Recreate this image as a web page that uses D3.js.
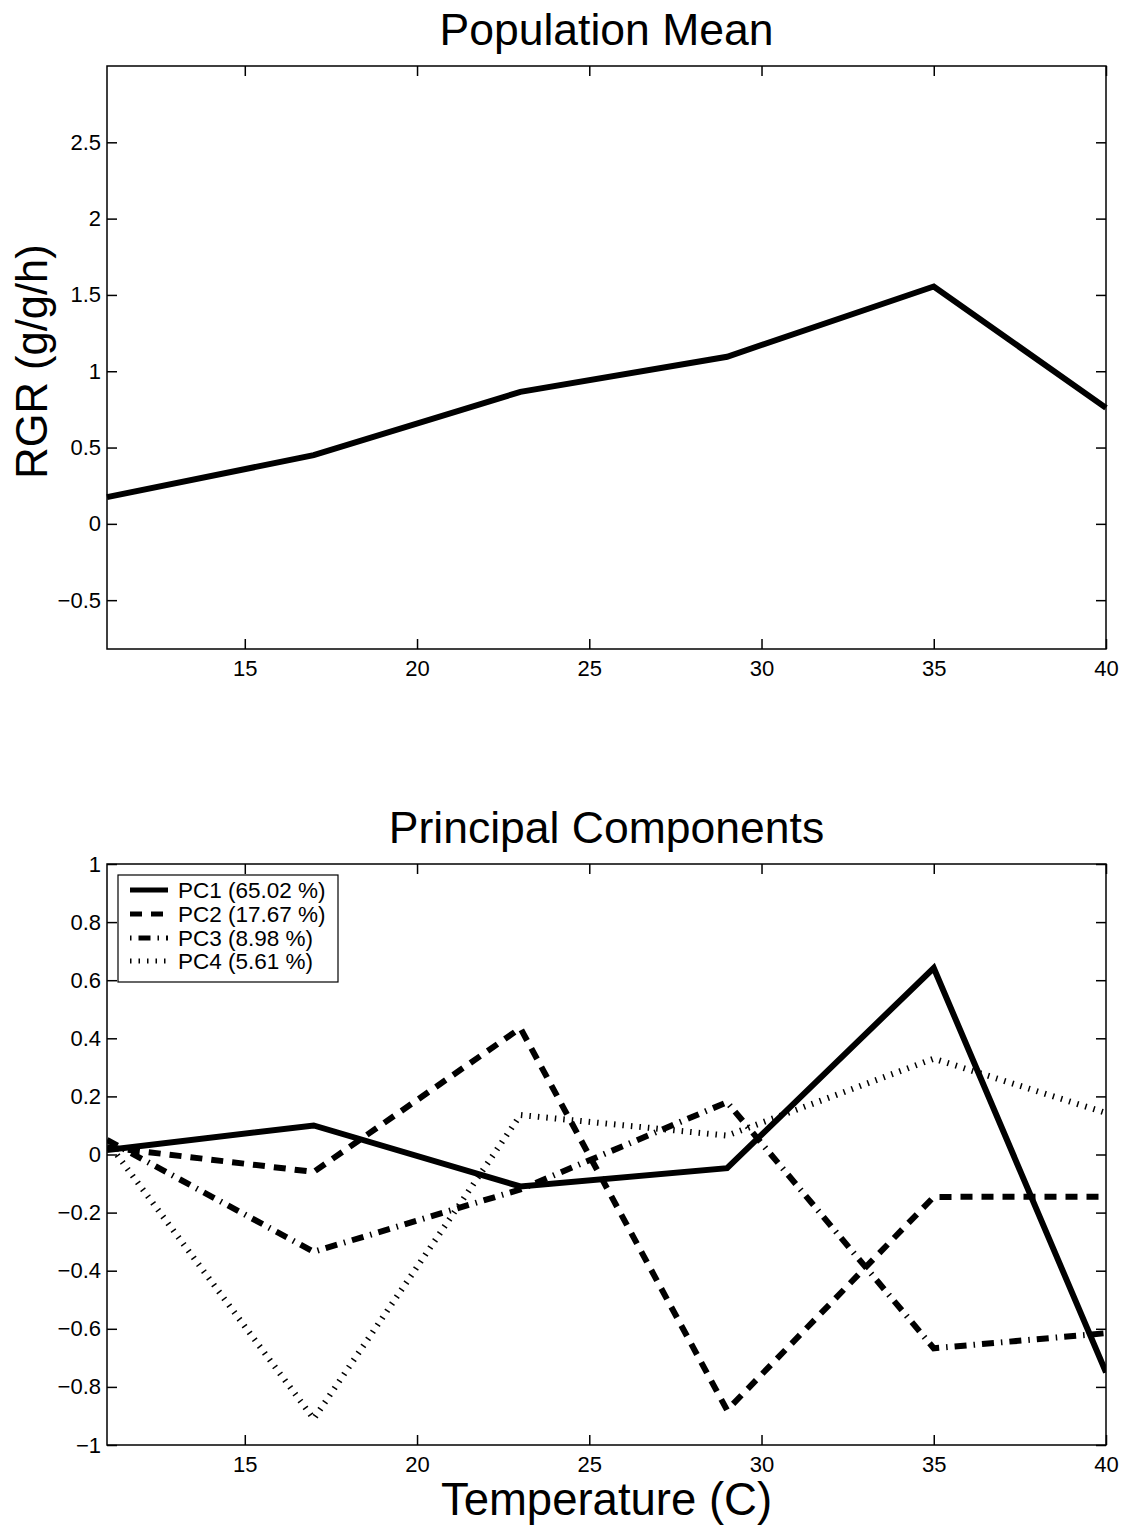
<!DOCTYPE html>
<html>
<head>
<meta charset="utf-8">
<script src="https://cdn.jsdelivr.net/npm/d3@7"></script>
<style>
  body { margin: 0; background: #fff; }
  svg { display: block; font-family: "Liberation Sans", Arial, Helvetica, sans-serif; }
</style>
</head>
<body>
<svg id="chart" width="1128" height="1528"></svg>
<script>
// Temperatures (C) at which growth rate was measured
const temperatures = [11, 17, 23, 29, 35, 40];
// Population mean relative growth rate (g/g/h)
const meanRGR = [0.175, 0.45, 0.865, 1.095, 1.555, 0.76];
// Principal component loadings
const pc1 = [0.015, 0.10, -0.11, -0.047, 0.642, -0.75];
const pc2 = [0.025, -0.06, 0.435, -0.88, -0.146, -0.145];
const pc3 = [0.05, -0.335, -0.12, 0.18, -0.667, -0.615];
const pc4 = [0.045, -0.91, 0.136, 0.065, 0.33, 0.143];
const pcLabels = ["PC1 (65.02 %)", "PC2 (17.67 %)", "PC3 (8.98 %)", "PC4 (5.61 %)"];
const xTicks = [15, 20, 25, 30, 35, 40];
const yTicksTop = [-0.5, 0, 0.5, 1, 1.5, 2, 2.5];
const yTicksBottom = [-1, -0.8, -0.6, -0.4, -0.2, 0, 0.2, 0.4, 0.6, 0.8, 1];

const svg = d3.select("#chart");
const left = 107, right = 1106;
const tickLen = 10;

const x = d3.scaleLinear().domain([11, 40]).range([left, right]);

function fmt(v) {
  return (v < 0 ? "\u2212" : "") + String(Math.abs(Math.round(v * 10) / 10));
}

function panel(top, bottom, yDomain, yTicks, title) {
  const y = d3.scaleLinear().domain(yDomain).range([bottom, top]);
  const g = svg.append("g");

  // inward ticks on all four sides
  g.append("g").attr("transform", `translate(0,${bottom})`)
    .call(d3.axisBottom(x).tickValues(xTicks).tickSize(-tickLen).tickPadding(11).tickFormat(fmt))
    .call(a => a.select(".domain").remove());
  g.append("g").attr("transform", `translate(0,${top})`)
    .call(d3.axisTop(x).tickValues(xTicks).tickSize(-tickLen).tickFormat(""))
    .call(a => a.select(".domain").remove());
  g.append("g").attr("transform", `translate(${left},0)`)
    .call(d3.axisLeft(y).tickValues(yTicks).tickSize(-tickLen).tickPadding(6).tickFormat(fmt))
    .call(a => a.select(".domain").remove());
  g.append("g").attr("transform", `translate(${right},0)`)
    .call(d3.axisRight(y).tickValues(yTicks).tickSize(-tickLen).tickFormat(""))
    .call(a => a.select(".domain").remove());

  g.selectAll(".tick line").attr("stroke", "#000").attr("stroke-width", 1.5);
  g.selectAll(".tick text").attr("font-size", 22).attr("fill", "#000");

  g.append("rect").attr("x", left).attr("y", top)
    .attr("width", right - left).attr("height", bottom - top)
    .attr("fill", "none").attr("stroke", "#000").attr("stroke-width", 1.5);

  svg.append("text").attr("x", (left + right) / 2).attr("y", top - 21)
    .attr("text-anchor", "middle").attr("font-size", 44.5).text(title);

  return y;
}

// Top panel: population mean
const yTop = panel(66, 649, [-0.82, 3.0], yTicksTop, "Population Mean");
const line1 = d3.line().x((d, i) => x(temperatures[i])).y(d => yTop(d));
svg.append("path").datum(meanRGR).attr("d", line1)
  .attr("fill", "none").attr("stroke", "#000").attr("stroke-width", 6)
  .attr("stroke-linejoin", "miter");

svg.append("text")
  .attr("transform", `translate(47,${(245 + 478) / 2}) rotate(-90)`)
  .attr("text-anchor", "middle").attr("font-size", 43.5).text("RGR (g/g/h)");

// Bottom panel: principal components
const yBot = panel(864, 1445, [-1, 1], yTicksBottom, "Principal Components");
const styles = [
  { data: pc1, dash: null, width: 6, offset: 0 },
  { data: pc2, dash: "12,9", width: 6, offset: 0 },
  { data: pc3, dash: "12,7,1.5,7", width: 6, offset: 19 },
  { data: pc4, dash: "1.5,7", width: 6, offset: 0 }
];
const line2 = d3.line().x((d, i) => x(temperatures[i])).y(d => yBot(d));

svg.append("clipPath").attr("id", "clipBot").append("rect")
  .attr("x", left).attr("y", 864).attr("width", right - left).attr("height", 1445 - 864);

const seriesG = svg.append("g").attr("clip-path", "url(#clipBot)");
styles.slice().reverse().forEach(s => {
  seriesG.append("path").datum(s.data).attr("d", line2)
    .attr("fill", "none").attr("stroke", "#000").attr("stroke-width", s.width)
    .attr("stroke-dasharray", s.dash);
});

// Legend
const lg = svg.append("g");
lg.append("rect").attr("x", 118).attr("y", 875).attr("width", 220).attr("height", 107)
  .attr("fill", "#fff").attr("stroke", "#000").attr("stroke-width", 1.2);
const legendY = [890, 914, 938, 961];
styles.forEach((s, i) => {
  lg.append("line").attr("x1", 130).attr("x2", 168)
    .attr("y1", legendY[i]).attr("y2", legendY[i])
    .attr("stroke", "#000").attr("stroke-width", 5)
    .attr("stroke-dasharray", s.dash)
    .attr("stroke-dashoffset", s.offset);
  lg.append("text").attr("x", 178).attr("y", legendY[i]).attr("dy", "0.35em")
    .attr("font-size", 22.5).text(pcLabels[i]);
});

svg.append("text").attr("x", (left + right) / 2).attr("y", 1515)
  .attr("text-anchor", "middle").attr("font-size", 45.5).text("Temperature (C)");
</script>
</body>
</html>
